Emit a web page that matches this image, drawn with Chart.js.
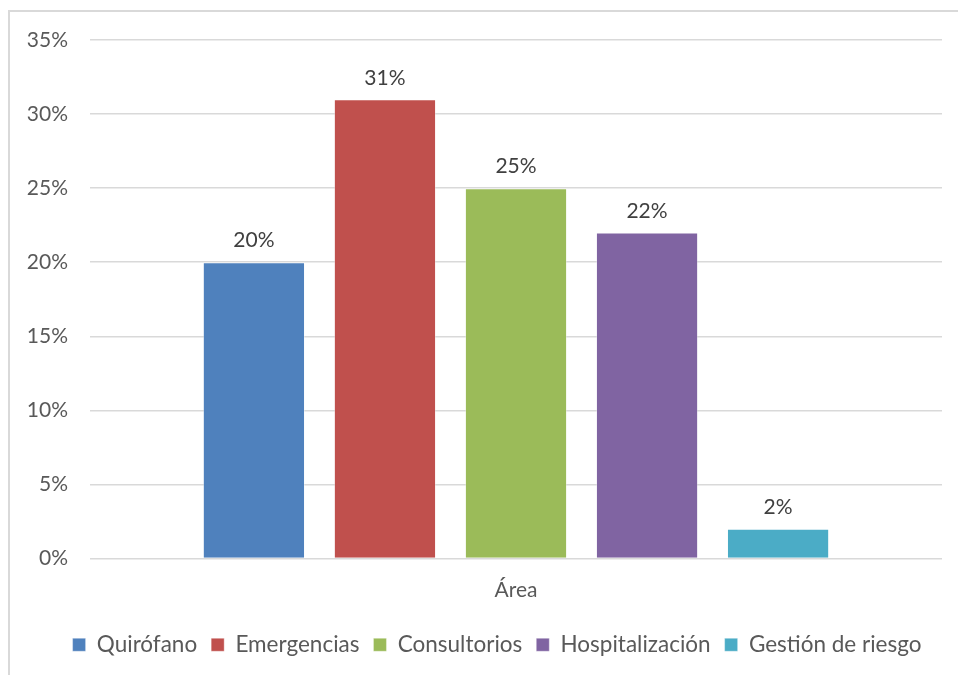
<!DOCTYPE html>
<html>
<head>
<meta charset="utf-8">
<script src="https://cdn.jsdelivr.net/npm/chart.js@4.4.1/dist/chart.umd.min.js"></script>
<style>
  html, body { margin: 0; padding: 0; background: #fff; overflow: hidden; }
  #marco {
    position: absolute; left: 8px; top: 10px;
    width: 1000px; height: 720px;
    border-left: 2px solid #d9d9d9; border-top: 2px solid #d9d9d9;
  }
  #graficoAreas { position: absolute; left: 0; top: 0; }
</style>
</head>
<body>
<div id="marco"></div>
<canvas id="graficoAreas" width="958" height="675"></canvas>
<script>
// datos por área
var categorias = ['Área'];
var areas = ['Quirófano', 'Emergencias', 'Consultorios', 'Hospitalización', 'Gestión de riesgo'];
var porcentajes = [20, 31, 25, 22, 2];
var colores = ['#4F81BD', '#C0504D', '#9BBB59', '#8064A2', '#4BACC6'];

var fuente = "Lato, 'Open Sans', sans-serif";

// etiqueta de valor encima de cada barra
var etiquetasValor = {
    id: 'etiquetasValor',
    afterDatasetsDraw: function (chart) {
        var ctx = chart.ctx;
        ctx.save();
        ctx.font = '21px ' + fuente;
        ctx.fillStyle = '#404040';
        ctx.textAlign = 'center';
        ctx.textBaseline = 'bottom';
        chart.data.datasets.forEach(function (ds, i) {
            chart.getDatasetMeta(i).data.forEach(function (barra, j) {
                ctx.fillText(ds.data[j] + '%', barra.x, barra.y - 11);
            });
        });
        ctx.restore();
    }
};

// la leyenda va algo más a la derecha que el centro del lienzo
var moverLeyenda = {
    id: 'moverLeyenda',
    afterLayout: function (chart) {
        chart.legend.left += 26;
        chart.legend.right += 26;
    }
};

var datasets = areas.map(function (nombre, i) {
    return {
        label: nombre,
        data: [porcentajes[i]],
        backgroundColor: colores[i],
        borderColor: 'rgba(255,255,255,0.35)',
        borderWidth: 1
    };
});

var ctx = document.getElementById('graficoAreas').getContext('2d');
var grafico = new Chart(ctx, {
    type: 'bar',
    data: { labels: categorias, datasets: datasets },
    plugins: [etiquetasValor, moverLeyenda],
    options: {
        responsive: false,
        maintainAspectRatio: false,
        animation: false,
        devicePixelRatio: 1,
        layout: { padding: { left: 0, right: 16, top: 40, bottom: 9 } },
        datasets: { bar: { categoryPercentage: 0.769, barPercentage: 0.78 } },
        scales: {
            x: {
                grid: { display: false },
                border: { display: false },
                ticks: { color: '#595959', font: { family: fuente, size: 21 }, padding: 11 },
                afterFit: function (scale) { scale.height = 61; }
            },
            y: {
                min: 0, max: 35,
                ticks: {
                    stepSize: 5,
                    color: '#595959',
                    font: { family: fuente, size: 21 },
                    padding: 22,
                    callback: function (v) { return v + '%'; }
                },
                grid: { color: '#d9d9d9', lineWidth: 1.5, drawTicks: false },
                border: { display: false },
                afterFit: function (scale) { scale.width = 90; }
            }
        },
        plugins: {
            legend: {
                position: 'bottom',
                labels: {
                    color: '#595959',
                    font: { family: fuente, size: 22.5 },
                    boxWidth: 13, boxHeight: 13,
                    padding: 14
                }
            },
            tooltip: { enabled: false }
        }
    }
});
</script>
</body>
</html>
